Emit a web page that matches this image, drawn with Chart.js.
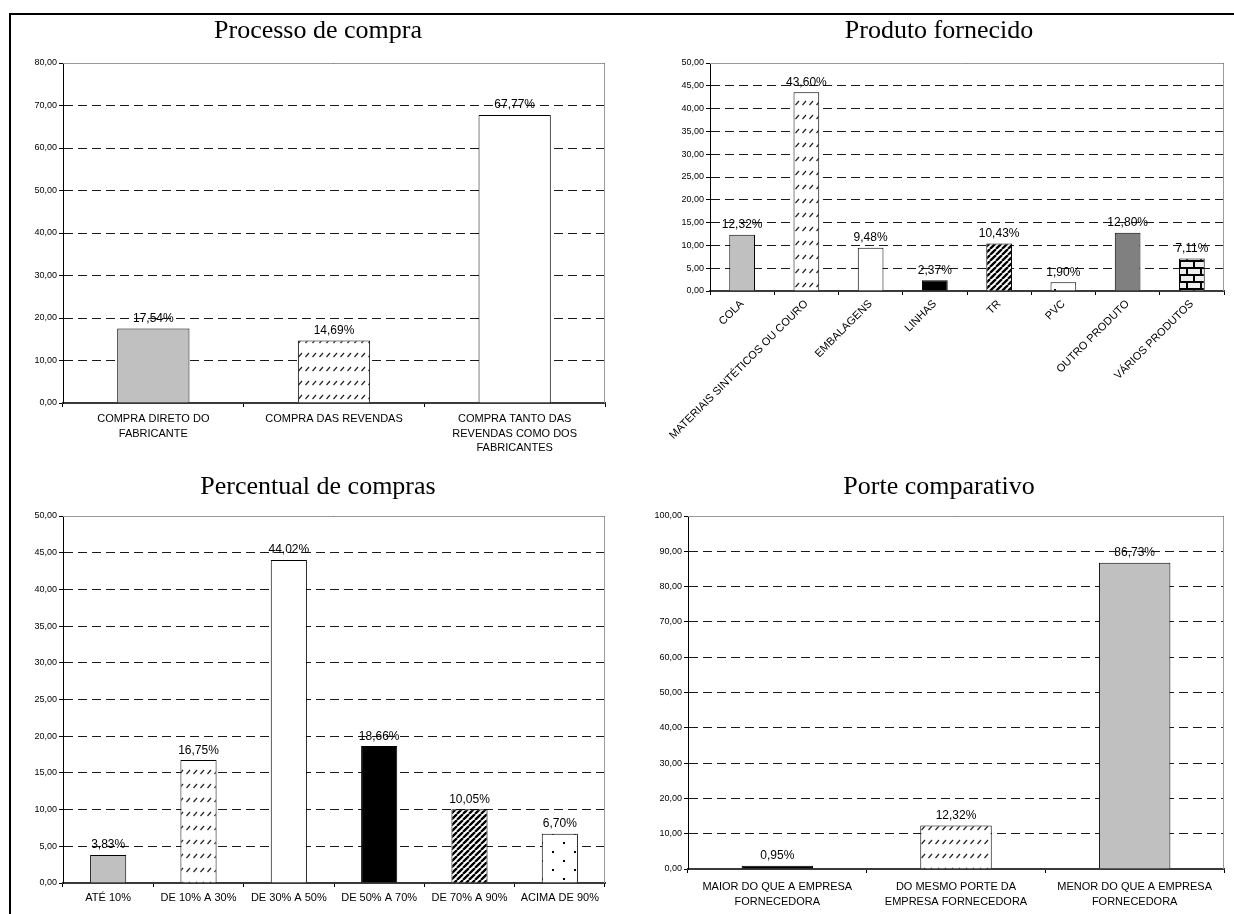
<!DOCTYPE html>
<html>
<head>
<meta charset="utf-8">
<script src="https://cdn.jsdelivr.net/npm/chart.js@4.4.1/dist/chart.umd.min.js"></script>
<style>
html, body { margin: 0; padding: 0; background: #fff; }
#page { position: relative; width: 1234px; height: 914px; overflow: hidden; background: #fff; }
#frame { position: absolute; left: 9px; top: 13px; width: 1300px; height: 1000px; border-top: 2px solid #000; border-left: 2px solid #000; }
canvas { position: absolute; }
</style>
</head>
<body>
<div id="page">
  <div id="frame"></div>
  <canvas id="c1" width="586" height="440" style="left:31px;top:15px"></canvas>
  <canvas id="c2" width="580" height="440" style="left:654px;top:15px"></canvas>
  <canvas id="c3" width="586" height="454" style="left:31px;top:460px"></canvas>
  <canvas id="c4" width="580" height="454" style="left:654px;top:460px"></canvas>
</div>
<script>
// ---------------- DATA ----------------
const title1 = 'Processo de compra';
const categories1 = [['COMPRA DIRETO DO', 'FABRICANTE'], ['COMPRA DAS REVENDAS'], ['COMPRA TANTO DAS', 'REVENDAS COMO DOS', 'FABRICANTES']];
const values1 = [17.54, 14.69, 67.77];
const yTicks1 = [0, 10, 20, 30, 40, 50, 60, 70, 80];

const title2 = 'Produto fornecido';
const categories2 = ['COLA', 'MATERIAIS SINTÉTICOS OU COURO', 'EMBALAGENS', 'LINHAS', 'TR', 'PVC', 'OUTRO PRODUTO', 'VÁRIOS PRODUTOS'];
const values2 = [12.32, 43.60, 9.48, 2.37, 10.43, 1.90, 12.80, 7.11];
const yTicks2 = [0, 5, 10, 15, 20, 25, 30, 35, 40, 45, 50];

const title3 = 'Percentual de compras';
const categories3 = ['ATÉ 10%', 'DE 10% A 30%', 'DE 30% A 50%', 'DE 50% A 70%', 'DE 70% A 90%', 'ACIMA DE 90%'];
const values3 = [3.83, 16.75, 44.02, 18.66, 10.05, 6.70];
const yTicks3 = [0, 5, 10, 15, 20, 25, 30, 35, 40, 45, 50];

const title4 = 'Porte comparativo';
const categories4 = [['MAIOR DO QUE A EMPRESA', 'FORNECEDORA'], ['DO MESMO PORTE DA', 'EMPRESA FORNECEDORA'], ['MENOR DO QUE A EMPRESA', 'FORNECEDORA']];
const values4 = [0.95, 12.32, 86.73];
const yTicks4 = [0, 10, 20, 30, 40, 50, 60, 70, 80, 90, 100];

// ---------------- STYLES ----------------
const SANS = '"Liberation Sans", Arial, sans-serif';
const SERIF = '"Liberation Serif", "Times New Roman", serif';

function tile(w, h, draw) {
  const c = document.createElement('canvas');
  c.width = w; c.height = h;
  const g = c.getContext('2d');
  draw(g, w, h);
  return g.createPattern(c, 'repeat');
}
const GRAY = '#c0c0c0', DARK = '#808080', BLACK = '#000000', WHITE = '#ffffff';
const DASHED = tile(7, 14, (g, w, h) => {
  g.fillStyle = '#fff'; g.fillRect(0, 0, w, h);
  g.strokeStyle = '#222'; g.lineWidth = 1.2;
  g.beginPath(); g.moveTo(1.5, 6); g.lineTo(5, 2); g.stroke();
});
const WIDE = tile(6, 6, (g, w, h) => {
  g.fillStyle = '#fff'; g.fillRect(0, 0, w, h);
  g.strokeStyle = '#000'; g.lineWidth = 2.3;
  g.beginPath();
  for (const k of [-6, 0, 6]) { g.moveTo(k, 6); g.lineTo(k + 6, 0); }
  g.stroke();
});
const DOTS = tile(22, 18, (g, w, h) => {
  g.fillStyle = '#fff'; g.fillRect(0, 0, w, h);
  g.fillStyle = '#000';
  g.fillRect(4, 4, 2, 2); g.fillRect(15, 13, 2, 2);
});
const BRICK = tile(14, 14, (g, w, h) => {
  g.fillStyle = '#eeeeee'; g.fillRect(0, 0, w, h);
  g.fillStyle = '#000';
  g.fillRect(0, 0, w, 2); g.fillRect(0, 7, w, 2);
  g.fillRect(0, 0, 2, 7); g.fillRect(7, 7, 2, 7);
});

const fills1 = [GRAY, DASHED, WHITE];
const fills2 = [GRAY, DASHED, WHITE, BLACK, WIDE, DOTS, DARK, BRICK];
const fills3 = [GRAY, DASHED, WHITE, BLACK, WIDE, DOTS];
const fills4 = [BLACK, DASHED, GRAY];

const fmt = v => v.toFixed(2).replace('.', ',');

const valueLabels = {
  id: 'valueLabels',
  afterDatasetsDraw(chart) {
    const ctx = chart.ctx;
    const meta = chart.getDatasetMeta(0);
    const data = chart.data.datasets[0].data;
    ctx.save();
    ctx.font = '12px ' + SANS;
    ctx.fillStyle = '#000';
    ctx.textAlign = 'center';
    ctx.textBaseline = 'alphabetic';
    meta.data.forEach((bar, i) => {
      ctx.fillText(fmt(data[i]) + '%', bar.x, bar.y - 6.5);
    });
    ctx.restore();
  }
};
const plotFrame = {
  id: 'plotFrame',
  beforeDatasetsDraw(chart) {
    const a = chart.chartArea, ctx = chart.ctx;
    ctx.save();
    ctx.strokeStyle = '#9a9a9a';
    ctx.lineWidth = 1;
    ctx.beginPath();
    const t = Math.round(a.top) + 0.5, r = Math.round(a.right) - 0.5;
    ctx.moveTo(a.left, t); ctx.lineTo(r, t); ctx.lineTo(r, a.bottom);
    ctx.stroke();
    ctx.restore();
  }
};

function makeChart(id, o) {
  return new Chart(document.getElementById(id), {
    type: 'bar',
    data: {
      labels: o.labels,
      datasets: [{
        data: o.values,
        backgroundColor: o.fills,
        borderColor: '#000',
        borderWidth: 1,
        barPercentage: 0.4,
        categoryPercentage: 1.0
      }]
    },
    options: {
      responsive: false,
      animation: false,
      devicePixelRatio: 1,
      events: [],
      layout: { padding: { left: 0, right: o.padRight, top: 0, bottom: 0 } },
      plugins: {
        legend: { display: false },
        tooltip: { enabled: false },
        title: {
          display: true,
          text: o.title,
          color: '#000',
          font: { family: SERIF, size: 26, weight: 'normal', lineHeight: 1 },
          padding: { top: o.titleTop, bottom: o.titleBottom }
        }
      },
      scales: {
        x: {
          grid: { offset: true, drawOnChartArea: false, drawTicks: true, tickLength: 4, color: '#000', lineWidth: 1 },
          border: { display: true, color: '#3a3a3a', width: 2 },
          ticks: {
            font: { family: SANS, size: 11, lineHeight: 1.32 },
            color: '#000',
            padding: o.xPad,
            autoSkip: false,
            maxRotation: o.rot,
            minRotation: o.rot
          },
          afterFit: s => { s.height = o.xHeight; }
        },
        y: {
          min: o.yTicks[0],
          max: o.yTicks[o.yTicks.length - 1],
          afterBuildTicks: s => { s.ticks = o.yTicks.map(v => ({ value: v })); },
          grid: { color: '#1a1a1a', lineWidth: 1, drawTicks: true, tickLength: 4, tickColor: '#000' },
          border: { display: true, color: '#000', width: 1, dash: [9, 5] },
          ticks: {
            font: { family: SANS, size: 9 },
            color: '#000',
            padding: 2,
            callback: v => fmt(v)
          },
          afterFit: s => { s.width = o.yWidth; }
        }
      }
    },
    plugins: [plotFrame, valueLabels]
  });
}

makeChart('c1', { labels: categories1, values: values1, fills: fills1, yTicks: yTicks1, title: title1,
  padRight: 12, titleTop: 3, titleBottom: 19, xHeight: 52, yWidth: 32, rot: 0, xPad: 5 });
makeChart('c2', { labels: categories2, values: values2, fills: fills2, yTicks: yTicks2, title: title2,
  padRight: 10, titleTop: 3, titleBottom: 19, xHeight: 164, yWidth: 56, rot: 45, xPad: 2 });
makeChart('c3', { labels: categories3, values: values3, fills: fills3, yTicks: yTicks3, title: title3,
  padRight: 12, titleTop: 14, titleBottom: 16, xHeight: 31, yWidth: 32, rot: 0, xPad: 4 });
makeChart('c4', { labels: categories4, values: values4, fills: fills4, yTicks: yTicks4, title: title4,
  padRight: 10, titleTop: 14, titleBottom: 16, xHeight: 45, yWidth: 34, rot: 0, xPad: 7 });
</script>
</body>
</html>
